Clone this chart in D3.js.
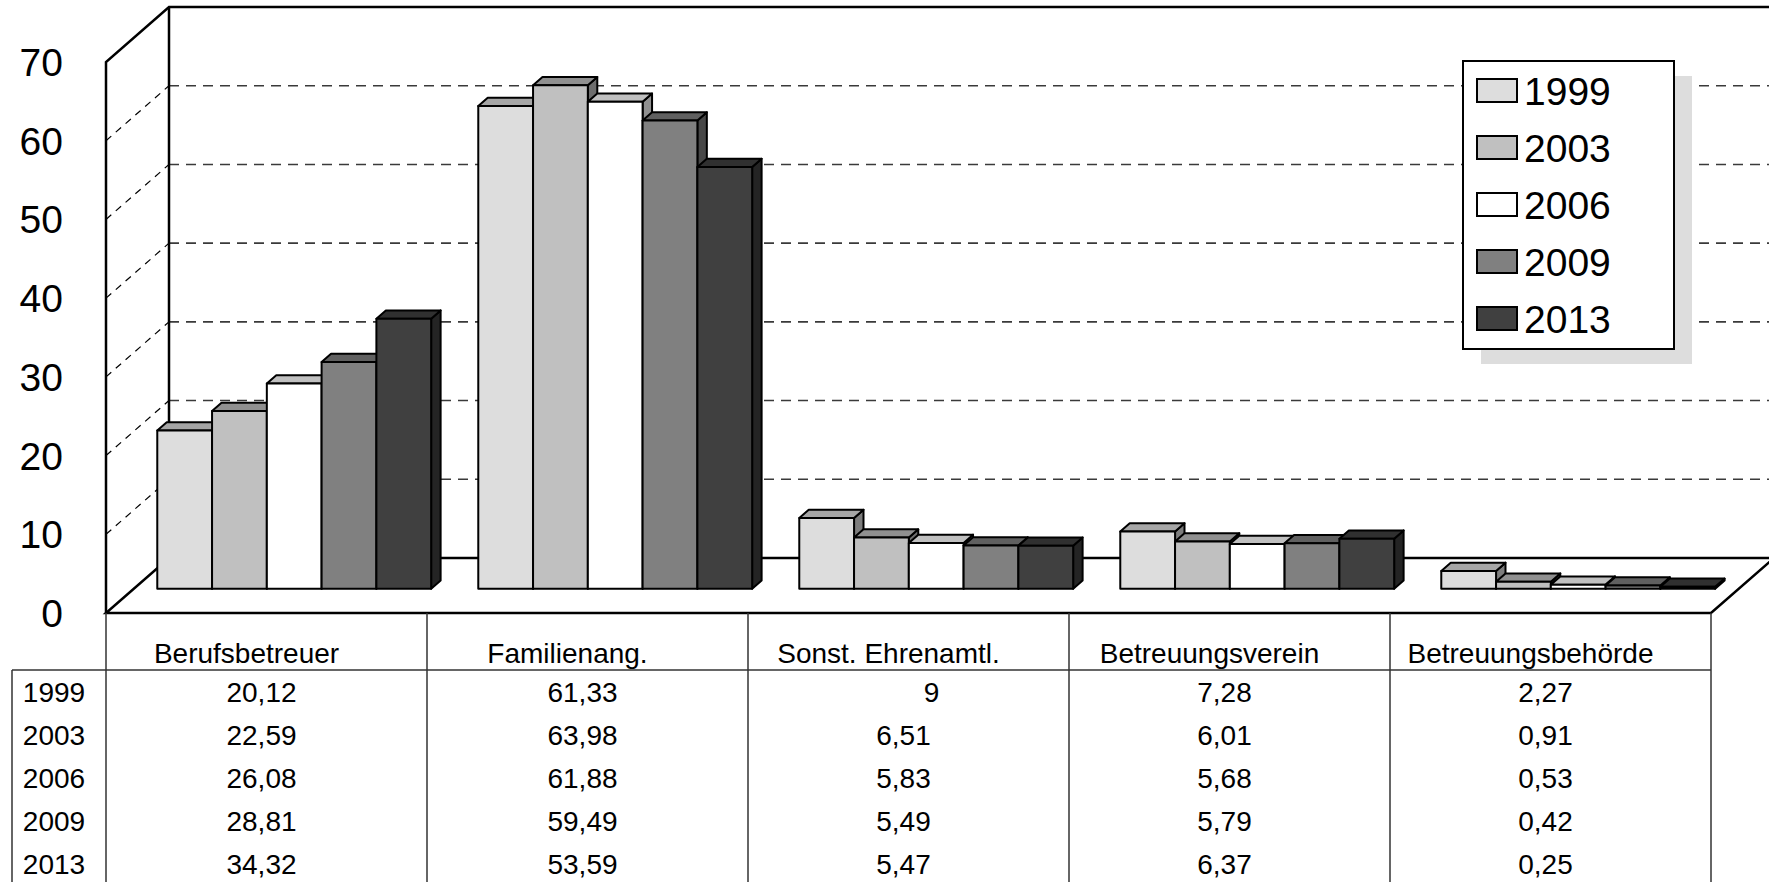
<!DOCTYPE html>
<html>
<head>
<meta charset="utf-8">
<script src="https://cdn.jsdelivr.net/npm/d3@7"></script>
<style>
  body { margin: 0; background: #fff; }
  text { font-family: "Liberation Sans", Arial, sans-serif; fill: #000; }
</style>
</head>
<body>
<div id="chart"></div>
<script>
// data
const categories = ["Berufsbetreuer", "Familienang.", "Sonst. Ehrenamtl.", "Betreuungsverein", "Betreuungsbehörde"];
const years = ["1999", "2003", "2006", "2009", "2013"];
const v1999 = [20.12, 61.33, 9, 7.28, 2.27];
const v2003 = [22.59, 63.98, 6.51, 6.01, 0.91];
const v2006 = [26.08, 61.88, 5.83, 5.68, 0.53];
const v2009 = [28.81, 59.49, 5.49, 5.79, 0.42];
const v2013 = [34.32, 53.59, 5.47, 6.37, 0.25];
const yTicks = [0, 10, 20, 30, 40, 50, 60, 70];

const series = [v1999, v2003, v2006, v2009, v2013];
const colors = ["#dddddd", "#c0c0c0", "#ffffff", "#808080", "#404040"];

const width = 1769, height = 882;
const svg = d3.select("#chart").append("svg")
    .attr("width", width)
    .attr("height", height)
    .style("display", "block");

// front plane scales
const y = d3.scaleLinear().domain([0, 70]).range([613, 62]);
const x = d3.scaleBand().domain(categories).range([106, 1711]);
const xs = d3.scaleBand().domain(years).range([0, x.bandwidth()]).paddingOuter(0.43).paddingInner(0);

// depth: 0 = front, 1 = back wall
const depthX = d3.scaleLinear().domain([0, 1]).range([0, 63]);
const depthY = d3.scaleLinear().domain([0, 1]).range([0, -55]);
const P = (px, v, t) => [px + depthX(t), y(v) + depthY(t)];
const poly = pts => pts.map(p => p.join(",")).join(" ");

const left = x.range()[0], right = x.range()[1];
const g = svg.append("g");

// floor
g.append("polygon")
    .attr("points", poly([P(left, 0, 0), P(right, 0, 0), P(right, 0, 1), P(left, 0, 1)]))
    .attr("fill", "#fff").attr("stroke", "#000").attr("stroke-width", 2.5);

// back wall gridlines
g.selectAll(".grid").data(yTicks.filter(d => d > 0 && d < 70)).enter().append("line")
    .attr("x1", P(left, 0, 1)[0]).attr("x2", width)
    .attr("y1", d => P(left, d, 1)[1]).attr("y2", d => P(left, d, 1)[1])
    .attr("stroke", "#3a3a3a").attr("stroke-width", 1.6).attr("stroke-dasharray", "10,7");

// side wall gridlines
g.selectAll(".sgrid").data(yTicks.filter(d => d > 0 && d < 70)).enter().append("line")
    .attr("x1", d => P(left, d, 0)[0]).attr("y1", d => P(left, d, 0)[1])
    .attr("x2", d => P(left, d, 1)[0]).attr("y2", d => P(left, d, 1)[1])
    .attr("stroke", "#000").attr("stroke-width", 1.2).attr("stroke-dasharray", "7,6");

// walls outline
const top70 = yTicks[yTicks.length - 1];
g.append("path")
    .attr("d", d3.line()([P(left, 0, 0), P(left, top70, 0), P(left, top70, 1), [width, P(left, top70, 1)[1]]]))
    .attr("fill", "none").attr("stroke", "#000").attr("stroke-width", 2.5);
g.append("line")
    .attr("x1", P(left, 0, 1)[0]).attr("y1", P(left, 0, 1)[1])
    .attr("x2", P(left, top70, 1)[0]).attr("y2", P(left, top70, 1)[1])
    .attr("stroke", "#000").attr("stroke-width", 2.5);

// bars
const t0 = 0.44, t1 = 0.59;
const bars = g.append("g");
categories.forEach((cat, ci) => {
  years.forEach((yr, si) => {
    const v = series[si][ci];
    const a = x(cat) + xs(yr), b = a + xs.bandwidth();
    const c = d3.color(colors[si]);
    const bg = bars.append("g").attr("stroke", "#000").attr("stroke-width", 2).attr("stroke-linejoin", "round");
    bg.append("polygon")
        .attr("points", poly([P(b, 0, t0), P(b, v, t0), P(b, v, t1), P(b, 0, t1)]))
        .attr("fill", c.darker(1.6));
    bg.append("polygon")
        .attr("points", poly([P(a, v, t0), P(b, v, t0), P(b, v, t1), P(a, v, t1)]))
        .attr("fill", c.darker(0.8));
    bg.append("polygon")
        .attr("points", poly([P(a, 0, t0), P(b, 0, t0), P(b, v, t0), P(a, v, t0)]))
        .attr("fill", c);
  });
});

// y tick labels
svg.selectAll(".ytick").data(yTicks).enter().append("text")
    .attr("x", 63).attr("y", d => y(d)).attr("dy", "0.36em")
    .attr("text-anchor", "end").style("font-size", "39px")
    .text(d => d);

// data table
const fmt = d3.formatLocale({decimal: ",", thousands: ".", grouping: [3], currency: ["", "€"]}).format(".2~f");
const tableTop = 670, rowH = 43, firstBase = 702;
const tbl = svg.append("g").attr("stroke", "#333").attr("stroke-width", 1.5);
categories.concat([null]).forEach(cat => {
  const xx = cat ? x(cat) : right;
  tbl.append("line").attr("x1", xx).attr("x2", xx).attr("y1", y(0)).attr("y2", height);
});
tbl.append("line").attr("x1", 12).attr("x2", right).attr("y1", tableTop).attr("y2", tableTop);
tbl.append("line").attr("x1", 12).attr("x2", 12).attr("y1", tableTop).attr("y2", height);

svg.selectAll(".cat").data(categories).enter().append("text")
    .attr("x", d => x(d) + x.bandwidth() / 2 - 20).attr("y", 663)
    .attr("text-anchor", "middle").style("font-size", "28px")
    .text(d => d);

years.forEach((yr, si) => {
  const by = firstBase + si * rowH;
  svg.append("text").attr("x", 54).attr("y", by)
      .attr("text-anchor", "middle").style("font-size", "28px").text(yr);
  svg.selectAll(".val" + si).data(series[si]).enter().append("text")
      .attr("x", (d, ci) => x(categories[ci]) + x.bandwidth() / 2 + (Number.isInteger(d) ? 23 : -5))
      .attr("y", by)
      .attr("text-anchor", "middle").style("font-size", "28px")
      .text(d => fmt(d));
});

// legend
const lg = svg.append("g").attr("transform", "translate(1463,61)");
lg.append("rect").attr("x", 18).attr("y", 15).attr("width", 211).attr("height", 288).attr("fill", "#dddddd");
lg.append("rect").attr("width", 211).attr("height", 288).attr("fill", "#fff").attr("stroke", "#000").attr("stroke-width", 2);
years.forEach((yr, si) => {
  lg.append("rect").attr("x", 14).attr("y", 18 + si * 57).attr("width", 40).attr("height", 23)
      .attr("fill", colors[si]).attr("stroke", "#000").attr("stroke-width", 2);
  lg.append("text").attr("x", 61).attr("y", 44 + si * 57)
      .style("font-size", "39px").text(yr);
});
</script>
</body>
</html>
